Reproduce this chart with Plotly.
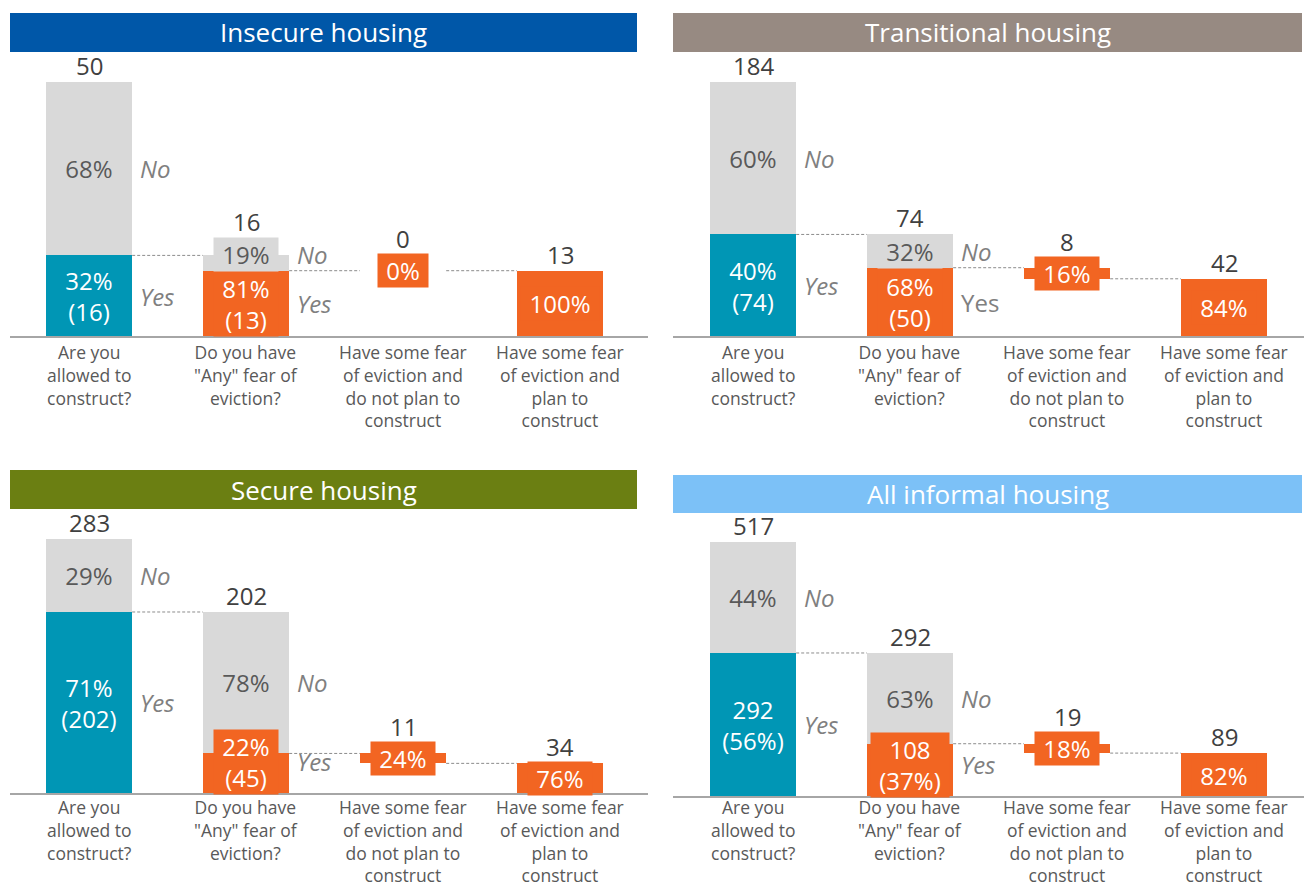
import plotly.graph_objects as go

# ---------------- data ----------------
panel_titles = ["Insecure housing", "Transitional housing", "Secure housing", "All informal housing"]
header_colors = ["#0057A8", "#978A82", "#6B7F12", "#7CC1F7"]

categories = [
    "Are you<br>allowed to<br>construct?",
    "Do you have<br>\"Any\" fear of<br>eviction?",
    "Have some fear<br>of eviction and<br>do not plan to<br>construct",
    "Have some fear<br>of eviction and<br>plan to<br>construct",
]

totals = [50, 184, 283, 517]            # Are you allowed to construct? (all)
allowed_yes = [16, 74, 202, 292]        # allowed = Yes  -> base of "fear" question
fear_yes = [13, 50, 45, 108]            # any fear of eviction = Yes
fear_no_plan = [0, 8, 11, 19]           # fear and do not plan to construct
fear_plan = [13, 42, 34, 89]            # fear and plan to construct

allowed_yes_labels = ["32%<br>(16)", "40%<br>(74)", "71%<br>(202)", "292<br>(56%)"]
allowed_no_labels = ["68%", "60%", "29%", "44%"]
fear_yes_labels = ["81%<br>(13)", "68%<br>(50)", "22%<br>(45)", "108<br>(37%)"]
fear_no_labels = ["19%", "32%", "78%", "63%"]
no_plan_labels = ["0%", "16%", "24%", "18%"]
plan_labels = ["100%", "84%", "76%", "82%"]

# ---------------- style ----------------
W, H = 1304, 888
FONT = "Open Sans"
TEAL = "#0096B5"
ORANGE = "#F26522"
GREY = "#D9D9D9"
DARK = "#404040"
MID = "#595959"
SIDE = "#808080"
FS = 24              # inner labels
FS_COUNT = 24
FS_SIDE = 24
FS_CAT = 17.5
LINE = FS * 1.3
PAD = 0
SP = 157.0       # px between categories
BW = 0.55        # bar width (category units)
BAR_PX = 255     # px height of the tallest bar in each panel

CHAR_EM = {"%": 0.84, "(": 0.30, ")": 0.30}


def text_px(s, size):
    lines = s.split("<br>")
    return max(sum(CHAR_EM.get(ch, 0.575) for ch in ln) for ln in lines) * size


geo = [
    dict(x0=10, x1=648, hx1=637, htop=13, hbot=52, base=337, c0=89),
    dict(x0=673, x1=1304, hx1=1302, htop=13, hbot=52, base=337, c0=753),
    dict(x0=10, x1=648, hx1=637, htop=470, hbot=509, base=794, c0=89),
    dict(x0=673, x1=1304, hx1=1302, htop=475, hbot=513, base=797, c0=753),
]
upright_yes = {(1, 1)}   # (panel, bar) where the "Yes" tag is not italic
cat_lines = max(c.count("<br>") + 1 for c in categories)
cat_box = cat_lines * FS_CAT * 1.3 + 3

fig = go.Figure()
annotations = []
shapes = []
layout_axes = {}

for p in range(4):
    g = geo[p]
    sfx = "" if p == 0 else str(p + 1)
    xa, ya = "x" + sfx, "y" + sfx
    plot_h = g["base"] - g["hbot"]
    ytop = totals[p] * plot_h / BAR_PX
    ppu = BAR_PX / totals[p]
    xmin = -(g["c0"] - g["x0"]) / SP
    xmax = (g["x1"] - g["c0"]) / SP
    layout_axes["xaxis" + sfx] = dict(domain=[g["x0"] / W, g["x1"] / W], range=[xmin, xmax],
                                      visible=False, anchor=ya, fixedrange=True)
    layout_axes["yaxis" + sfx] = dict(domain=[1 - g["base"] / H, 1 - g["hbot"] / H], range=[0, ytop],
                                      visible=False, anchor=xa, fixedrange=True)

    t, ay, fy, nplan, plan = totals[p], allowed_yes[p], fear_yes[p], fear_no_plan[p], fear_plan[p]

    common = dict(xaxis=xa, yaxis=ya, width=BW, marker_line_width=0, hoverinfo="skip", showlegend=False)
    fig.add_trace(go.Bar(x=[0], y=[ay], base=[0], marker_color=TEAL, **common))
    fig.add_trace(go.Bar(x=[0, 1], y=[t - ay, ay - fy], base=[ay, fy], marker_color=GREY, **common))
    fig.add_trace(go.Bar(x=[1, 2, 3], y=[fy, nplan, plan], base=[0, plan, 0], marker_color=ORANGE, **common))

    def inner(x, lo, hi, text, bg, fc, center=False):
        n = text.count("<br>") + 1
        box = n * LINE + 2 * PAD
        seg = (hi - lo) * ppu
        if center or box <= seg:
            cpx = (lo + hi) / 2 * ppu
        else:
            cpx = lo * ppu + 1 + box / 2
        annotations.append(dict(x=x, y=cpx / ppu, xref=xa, yref=ya, text=text, showarrow=False,
                                bgcolor=bg, borderpad=PAD, width=round(text_px(text, FS) + 16),
                                font=dict(family=FONT, size=FS, color=fc),
                                xanchor="center", yanchor="middle"))
        return cpx, cpx + box / 2

    def count(x, top_val, top_px, text):
        shift = max(top_px - top_val * ppu, 0) - 2
        annotations.append(dict(x=x, y=top_val, xref=xa, yref=ya, text=text, showarrow=False,
                                font=dict(family=FONT, size=FS_COUNT, color=DARK),
                                xanchor="center", yanchor="bottom", yshift=shift))

    def side(x, cpx, text, italic=True):
        annotations.append(dict(x=x + BW / 2, y=cpx / ppu, xref=xa, yref=ya,
                                text=("<i>%s</i>" % text) if italic else text, showarrow=False,
                                font=dict(family=FONT, size=FS_SIDE, color=SIDE),
                                xanchor="left", yanchor="middle", xshift=6))

    # bar 1
    c_yes, top_yes = inner(0, 0, ay, allowed_yes_labels[p], TEAL, "white")
    c_no, top_no = inner(0, ay, t, allowed_no_labels[p], GREY, MID)
    count(0, t, max(t * ppu, top_no), str(t))
    side(0, c_no, "No")
    side(0, c_yes, "Yes")

    # bar 2
    c_yes2, top_yes2 = inner(1, 0, fy, fear_yes_labels[p], ORANGE, "white")
    c_no2, top_no2 = inner(1, fy, ay, fear_no_labels[p], GREY, MID)
    count(1, ay, max(ay * ppu, top_no2, top_yes2), str(ay))
    side(1, c_no2, "No")
    side(1, c_yes2, "Yes", italic=(p, 1) not in upright_yes)

    # bar 3 (floating)
    c3, top3 = inner(2, plan, plan + nplan, no_plan_labels[p], ORANGE, "white", center=True)
    count(2, plan + nplan, max((plan + nplan) * ppu, top3), str(nplan))

    # bar 4
    c4, top4 = inner(3, 0, plan, plan_labels[p], ORANGE, "white", center=True)
    count(3, plan, max(plan * ppu, top4), str(plan))

    # connector dashes
    dash = dict(color="#8C8C8C", width=1, dash="3px,2px")
    for (xs, xe, yv) in [(0 + BW / 2, 1 - BW / 2, ay), (1 + BW / 2, 2 - BW / 2, fy), (2 + BW / 2, 3 - BW / 2, plan)]:
        shapes.append(dict(type="line", xref=xa, yref=ya, x0=xs, x1=xe, y0=yv, y1=yv, line=dash, layer="above"))

    # category labels (kept inside the page)
    cat_top = min(g["base"] + 1, H - 1 - cat_box)
    for i, c in enumerate(categories):
        annotations.append(dict(x=i, y=1 - cat_top / H, xref=xa, yref="paper", text=c, showarrow=False,
                                font=dict(family=FONT, size=FS_CAT, color=MID), xanchor="center", yanchor="top",
                                align="center"))

    # baseline
    shapes.append(dict(type="line", xref="paper", yref="paper", x0=g["x0"] / W, x1=g["x1"] / W,
                       y0=1 - g["base"] / H, y1=1 - g["base"] / H, line=dict(color="#A6A6A6", width=2),
                       layer="above"))
    # header
    shapes.append(dict(type="rect", xref="paper", yref="paper", x0=g["x0"] / W, x1=g["hx1"] / W,
                       y0=1 - g["hbot"] / H, y1=1 - g["htop"] / H, fillcolor=header_colors[p],
                       line=dict(width=0), layer="below"))
    annotations.append(dict(x=(g["x0"] + g["hx1"]) / 2 / W, y=1 - (g["htop"] + g["hbot"]) / 2 / H,
                            xref="paper", yref="paper", text=panel_titles[p], showarrow=False,
                            font=dict(family=FONT, size=26, color="white"), xanchor="center", yanchor="middle"))

fig.update_layout(
    width=W, height=H, margin=dict(l=0, r=0, t=0, b=0),
    paper_bgcolor="white", plot_bgcolor="rgba(0,0,0,0)",
    barmode="overlay", bargap=0, showlegend=False,
    annotations=annotations, shapes=shapes,
    font=dict(family=FONT),
    **layout_axes,
)
fig.write_html("out.html", config={"displayModeBar": False},
               post_script="document.body.style.margin='0';document.body.style.overflow='hidden';")
